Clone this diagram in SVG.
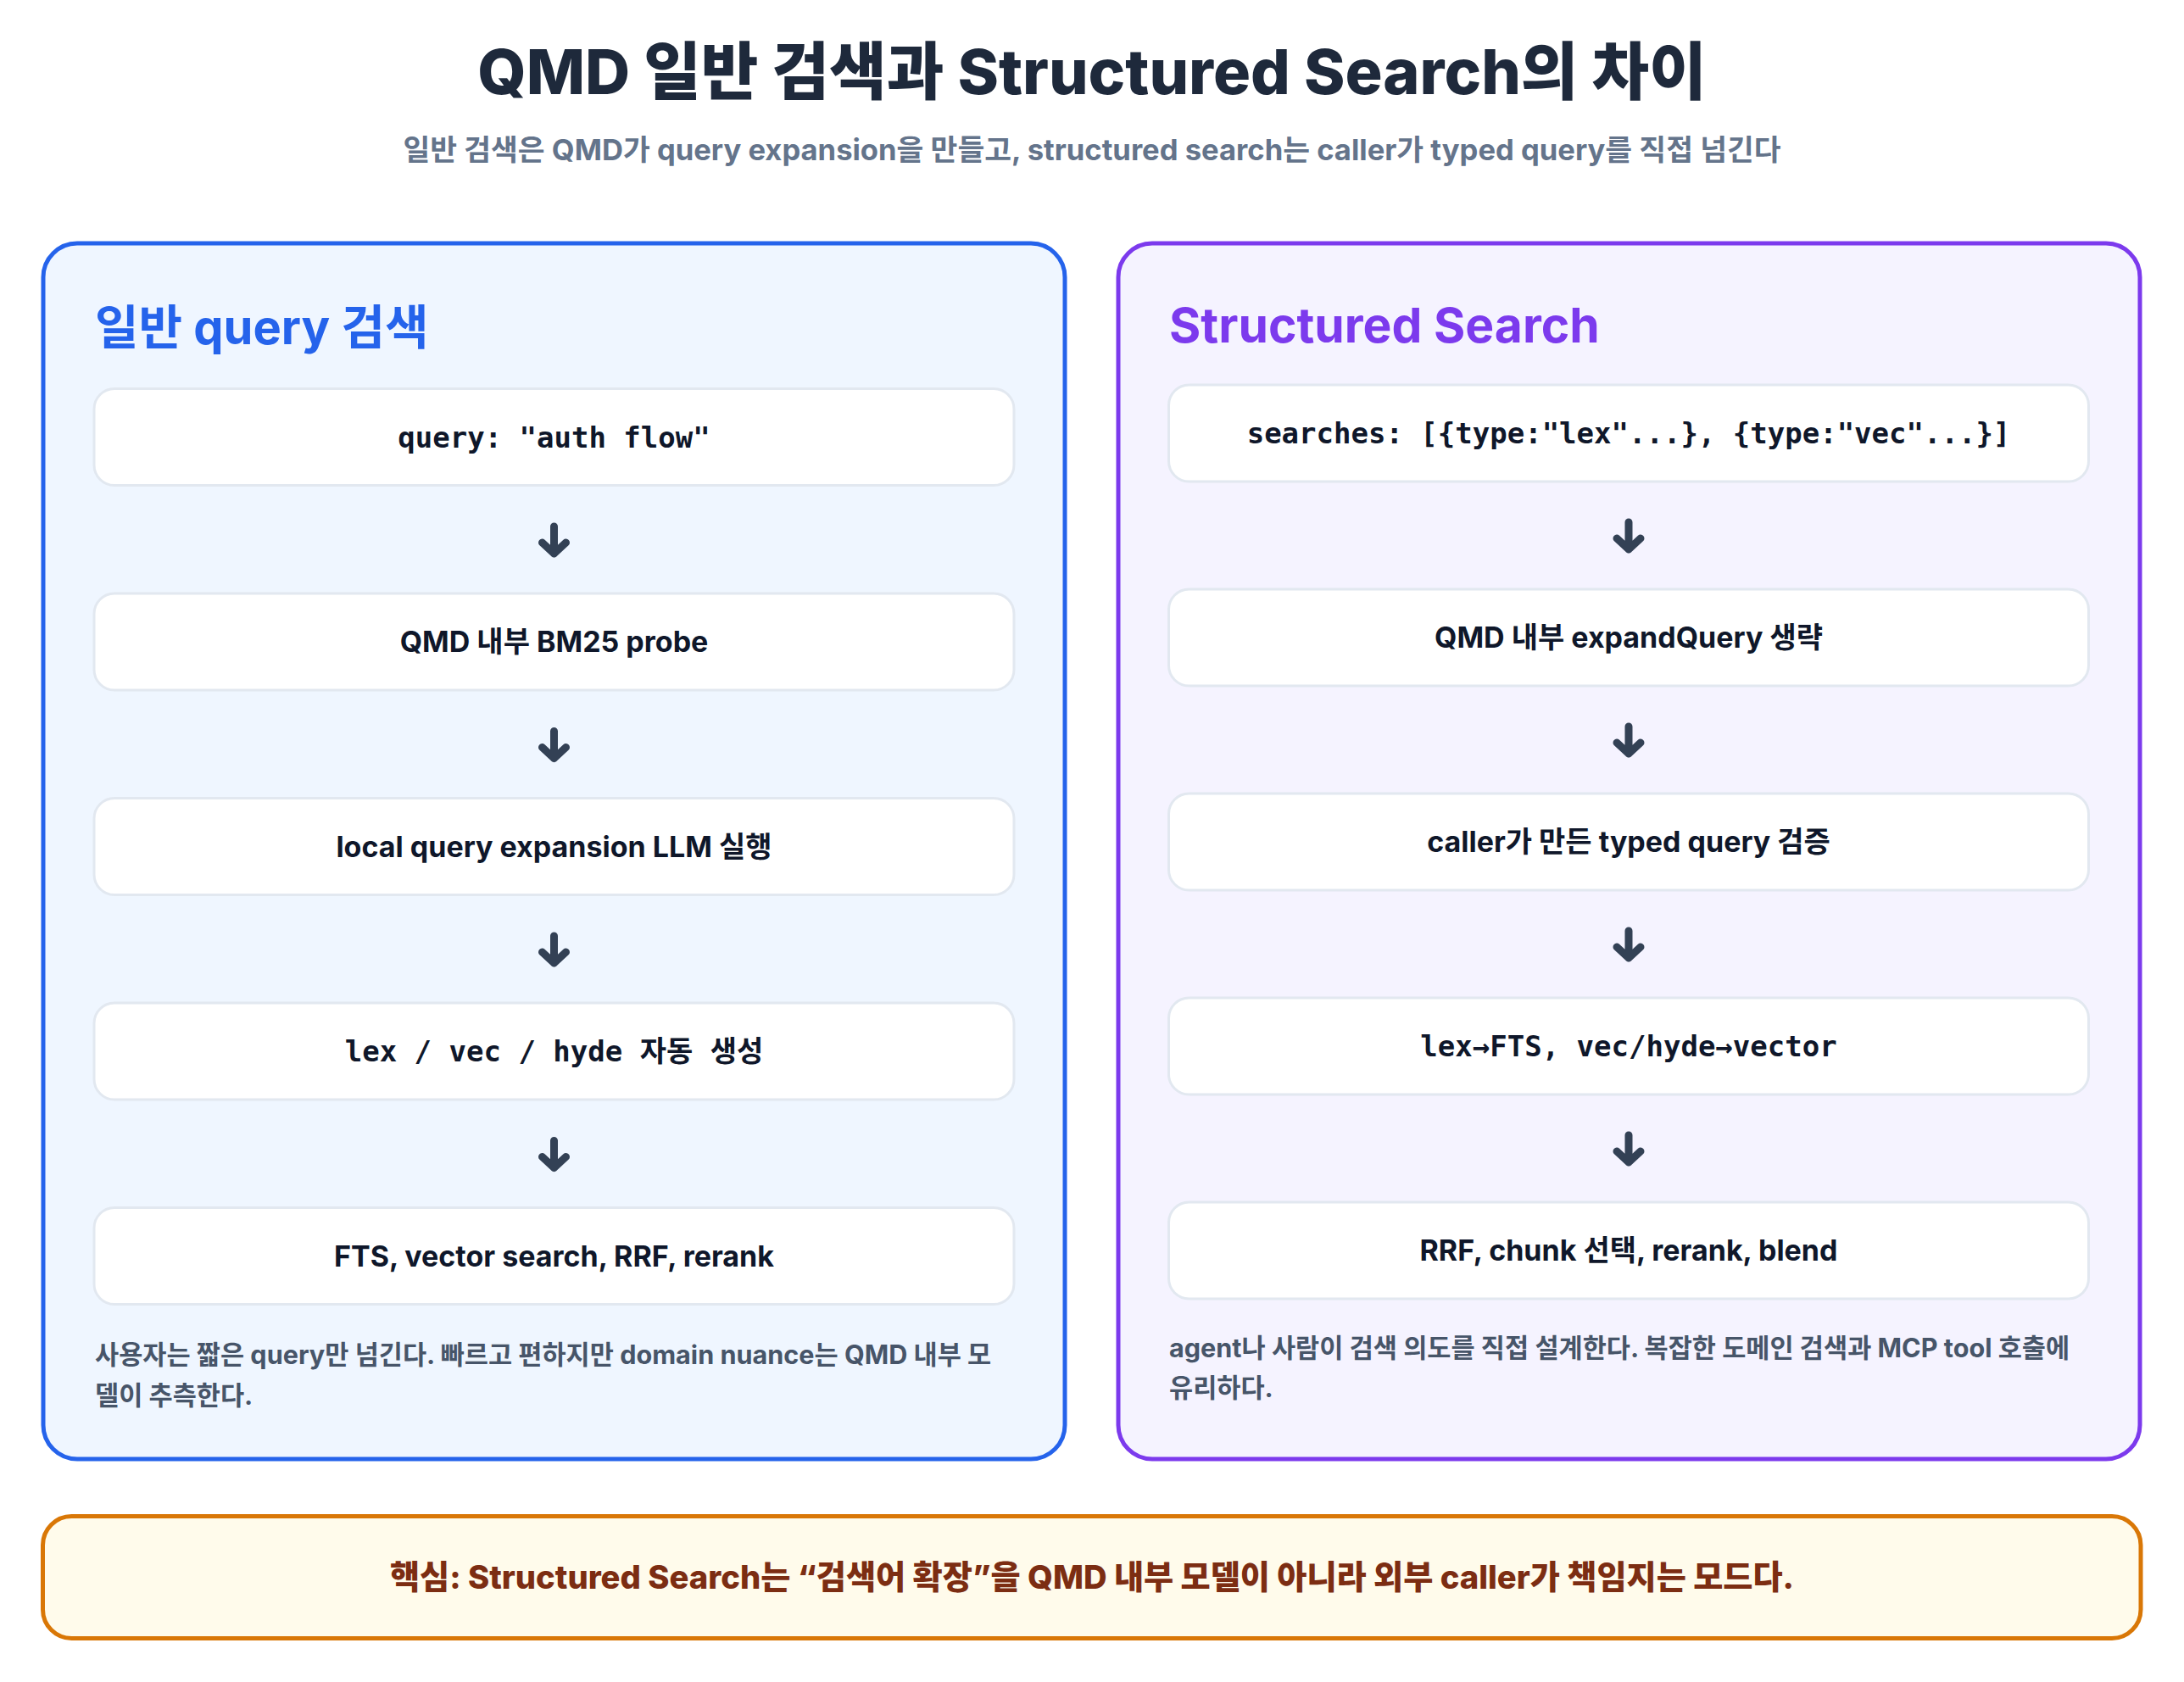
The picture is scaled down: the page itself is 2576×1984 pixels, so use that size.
<svg xmlns="http://www.w3.org/2000/svg" width="2576" height="1984" viewBox="0 0 2576 1984">
  <style>
    .sans { font-family: Inter, "Noto Sans CJK KR", sans-serif; }
    .mono { font-family: "DejaVu Sans Mono", "Noto Sans CJK KR", monospace; font-weight: 700; }
    .title { font-size: 73.5px; font-weight: 800; fill: #1e293b; }
    .subtitle { font-size: 34.6px; font-weight: 700; fill: #64748b; }
    .ptitle { font-size: 57px; font-weight: 700; }
    .ptitle-ko { font-size: 56px; }
    .step { fill: #ffffff; stroke: #e2e8f0; stroke-width: 3; }
    .stext { font-size: 34px; font-weight: 700; fill: #0f172a; text-anchor: middle; }
    .mtext { font-size: 34px; fill: #0f172a; text-anchor: middle; }
    .desc { font-size: 30.6px; font-weight: 650; fill: #475569; }
    .arrow { fill: none; stroke: #334155; stroke-width: 9; stroke-linecap: round; stroke-linejoin: round; }
  </style>
  <rect width="2576" height="1984" fill="#ffffff"/>

  <g id="header">
    <text class="sans title" x="1288" y="111" text-anchor="middle">QMD 일반 검색과 Structured Search의 차이</text>
    <text class="sans subtitle" x="1288" y="189" text-anchor="middle">일반 검색은 QMD가 query expansion을 만들고, structured search는 caller가 typed query를 직접 넘긴다</text>
  </g>

  <g id="panel-normal">
    <rect x="51" y="287" width="1205" height="1434" rx="40" fill="#eff6ff" stroke="#2563eb" stroke-width="5"/>
    <text class="sans ptitle ptitle-ko" x="112" y="406" fill="#2563eb">일반 query 검색</text>
    <text class="sans desc" x="112" y="1609">사용자는 짧은 query만 넘긴다. 빠르고 편하지만 domain nuance는 QMD 내부 모</text>
    <text class="sans desc" x="112" y="1657">델이 추측한다.</text>
  </g>
  <g id="n1">
    <rect class="step" x="111" y="458.5" width="1085" height="114" rx="24"/>
    <text class="mono mtext" x="653.5" y="527.5">query: "auth flow"</text>
  </g>
  <g id="n2">
    <rect class="step" x="111" y="700" width="1085" height="114" rx="24"/>
    <text class="sans stext" x="653.5" y="769">QMD 내부 BM25 probe</text>
  </g>
  <g id="n3">
    <rect class="step" x="111" y="941.5" width="1085" height="114" rx="24"/>
    <text class="sans stext" x="653.5" y="1010.5">local query expansion LLM 실행</text>
  </g>
  <g id="n4">
    <rect class="step" x="111" y="1183" width="1085" height="114" rx="24"/>
    <text class="mono mtext" x="653.5" y="1252">lex / vec / hyde 자동 생성</text>
  </g>
  <g id="n5">
    <rect class="step" x="111" y="1424.5" width="1085" height="114" rx="24"/>
    <text class="sans stext" x="653.5" y="1493.5">FTS, vector search, RRF, rerank</text>
  </g>

  <g id="panel-structured">
    <rect x="1319" y="287" width="1205" height="1434" rx="40" fill="#f5f3ff" stroke="#7c3aed" stroke-width="5"/>
    <text class="sans ptitle" x="1379" y="404" fill="#7c3aed">Structured Search</text>
    <text class="sans desc" x="1379" y="1601">agent나 사람이 검색 의도를 직접 설계한다. 복잡한 도메인 검색과 MCP tool 호출에</text>
    <text class="sans desc" x="1379" y="1648">유리하다.</text>
  </g>
  <g id="s1">
    <rect class="step" x="1378.5" y="454" width="1085" height="114" rx="24"/>
    <text class="mono mtext" x="1921" y="523">searches: [{type:"lex"...}, {type:"vec"...}]</text>
  </g>
  <g id="s2">
    <rect class="step" x="1378.5" y="695" width="1085" height="114" rx="24"/>
    <text class="sans stext" x="1921" y="764">QMD 내부 expandQuery 생략</text>
  </g>
  <g id="s3">
    <rect class="step" x="1378.5" y="936" width="1085" height="114" rx="24"/>
    <text class="sans stext" x="1921" y="1005">caller가 만든 typed query 검증</text>
  </g>
  <g id="s4">
    <rect class="step" x="1378.5" y="1177" width="1085" height="114" rx="24"/>
    <text class="mono mtext" x="1921" y="1246">lex→FTS, vec/hyde→vector</text>
  </g>
  <g id="s5">
    <rect class="step" x="1378.5" y="1418" width="1085" height="114" rx="24"/>
    <text class="sans stext" x="1921" y="1487">RRF, chunk 선택, rerank, blend</text>
  </g>

  <g id="connectors">
    <path class="arrow" d="M653.5,621 V653 M639.5,640 L653.5,653 L667.5,640"/>
    <path class="arrow" d="M653.5,862.5 V894.5 M639.5,881.5 L653.5,894.5 L667.5,881.5"/>
    <path class="arrow" d="M653.5,1104 V1136 M639.5,1123 L653.5,1136 L667.5,1123"/>
    <path class="arrow" d="M653.5,1345.5 V1377.5 M639.5,1364.5 L653.5,1377.5 L667.5,1364.5"/>
    <path class="arrow" d="M1921,616 V648 M1907,635 L1921,648 L1935,635"/>
    <path class="arrow" d="M1921,857 V889 M1907,876 L1921,889 L1935,876"/>
    <path class="arrow" d="M1921,1098 V1130 M1907,1117 L1921,1130 L1935,1117"/>
    <path class="arrow" d="M1921,1339 V1371 M1907,1358 L1921,1371 L1935,1358"/>
  </g>

  <g id="banner">
    <rect x="50.5" y="1788.5" width="2474.5" height="144" rx="34" fill="#fffbeb" stroke="#d97706" stroke-width="5"/>
    <text class="sans" x="1288" y="1874" text-anchor="middle" font-size="38.2" font-weight="800" fill="#7c2d12">핵심: Structured Search는 “검색어 확장”을 QMD 내부 모델이 아니라 외부 caller가 책임지는 모드다.</text>
  </g>
</svg>
